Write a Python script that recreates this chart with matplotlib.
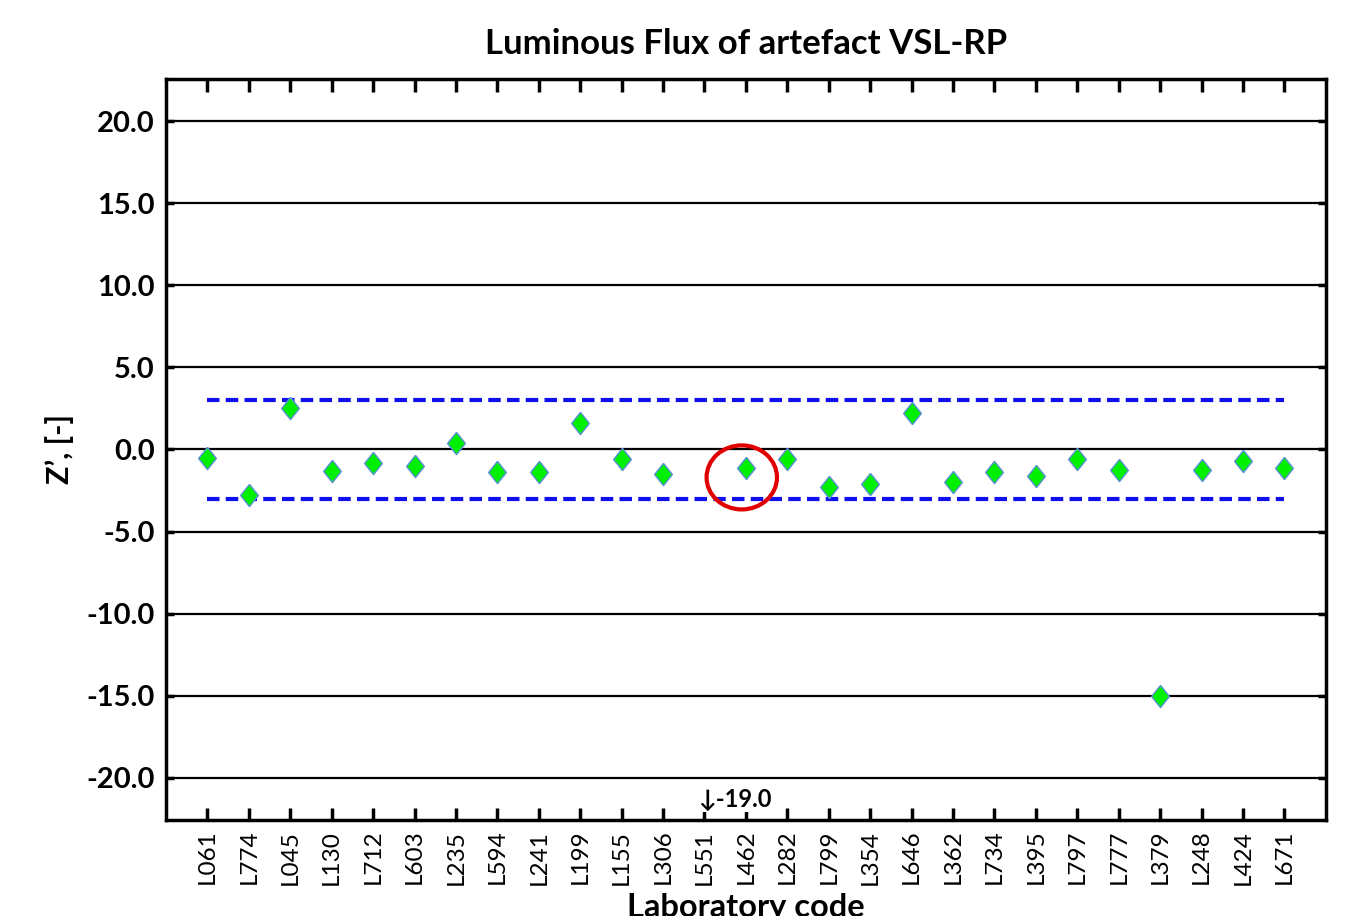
"""
Z' scores of the luminous flux comparison, artefact VSL-RP
"""

import matplotlib
matplotlib.use("Agg")
from matplotlib import pyplot as plt
from matplotlib.patches import Ellipse

plt.rcParams["font.family"] = ["Lato", "DejaVu Sans"]

# Data
labs = ["L061", "L774", "L045", "L130", "L712", "L603", "L235", "L594", "L241",
        "L199", "L155", "L306", "L551", "L462", "L282", "L799", "L354", "L646",
        "L362", "L734", "L395", "L797", "L777", "L379", "L248", "L424", "L671"]
z_scores = [-0.5, -2.8, 2.5, -1.3, -0.85, -1.0, 0.4, -1.4, -1.35,
            1.6, -0.55, -1.5, None, -1.15, -0.55, -2.3, -2.1, 2.25,
            -2.0, -1.35, -1.6, -0.55, -1.25, -15.0, -1.25, -0.7, -1.15]
off_lab = "L551"
off_value = -19.0
limit = 3.0
highlight = "L462"
y_ticks = [20.0, 15.0, 10.0, 5.0, 0.0, -5.0, -10.0, -15.0, -20.0]

x = list(range(1, len(labs) + 1))
xs = [xi for xi, v in zip(x, z_scores) if v is not None]
ys = [v for v in z_scores if v is not None]

fig = plt.figure(figsize=(13.48, 9.16), dpi=100)
ax = fig.add_axes([0.1231, 0.1048, 0.8605, 0.809])

for yt in y_ticks:
    ax.axhline(yt, color="black", lw=1.6, zorder=1)

ax.hlines([limit, -limit], x[0], x[-1], colors="#1010ee",
          linestyles=(0, (3, 1.5)), lw=3, zorder=2)

diamond = [(0, 1), (0.8, 0), (0, -1), (-0.8, 0), (0, 1)]
ax.plot(xs, ys, ls="none", marker=diamond, markersize=16,
        markerfacecolor="#00f000", markeredgecolor="#5b8fd6",
        markeredgewidth=1, zorder=3)

# highlighted lab
hx = labs.index(highlight) + 1
ax.add_patch(Ellipse((hx - 0.1, -1.7), 1.7, 3.9, fill=False,
                     edgecolor="#e00000", lw=3, zorder=4))

# value below the scale
ox = labs.index(off_lab) + 1
ax.text(ox - 0.15, -21.3, "\u2193" + f"{off_value:.1f}", ha="left",
        va="center", fontsize=17, fontweight="bold", zorder=6,
        bbox=dict(facecolor="white", edgecolor="none", pad=1))

ax.set_xlim(0, len(labs) + 1)
ax.set_ylim(-22.56, 22.56)
ax.set_xticks(x)
ax.set_xticklabels(labs, rotation=90, fontsize=17.5)
ax.set_yticks(y_ticks)
ax.set_yticklabels([f"{v:.1f}" for v in y_ticks], fontsize=21,
                   fontweight="bold")
ax.tick_params(axis="x", direction="in", top=True, length=9, width=2.5,
               pad=7)
ax.tick_params(axis="y", direction="in", right=True, length=6, width=2.5,
               pad=8)
for s in ax.spines.values():
    s.set_linewidth(2.5)

ax.set_title("Luminous Flux of artefact VSL-RP", fontsize=25,
             fontweight="bold", pad=18)
ax.set_ylabel("Z\u2019, [-]", fontsize=22, fontweight="bold", labelpad=9)
ax.set_xlabel("Laboratory code", fontsize=23.5, fontweight="bold", labelpad=6)

fig.savefig("out.png", dpi=100)
plt.close()
